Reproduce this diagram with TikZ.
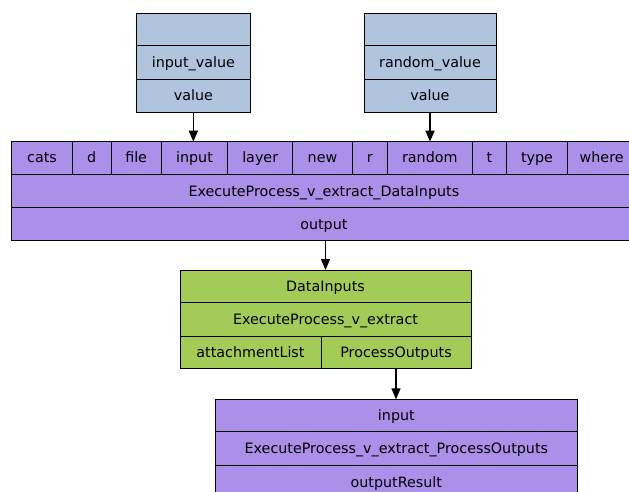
\documentclass[tikz,border=0pt]{standalone}
\usepackage{fontspec}
\setmainfont{DejaVu Sans}
\usetikzlibrary{arrows.meta}
\definecolor{typeblue}{HTML}{B0C4DE}
\definecolor{procpurple}{HTML}{AB90EA}
\definecolor{datagreen}{HTML}{A2CB57}
\tikzset{
  cell/.style={draw=black, line width=1pt, inner sep=0pt, outer sep=0pt,
    font=\fontsize{14.3}{16}\selectfont, text=black,
    text height=12pt, text depth=2pt},
  link/.style={draw=black, line width=1.2pt, -{Triangle[length=11pt,width=9pt]}},
}
% \cellat{name}{x1}{y1}{x2}{y2}{fill}{text}: one table cell between two corners
\newcommand\cellat[7]{%
  \node[cell, fill=#6, minimum width={(#4-#2)*1pt}, minimum height={(#5-#3)*1pt}]
    (#1) at ({(#2+#4)/2},{(#3+#5)/2}) {#7};}
\begin{document}
\begin{tikzpicture}[x=1pt, y=-1pt]
\useasboundingbox (0,0) rectangle (629,492);
\clip (0,0) rectangle (629,492);

% input_value record
\cellat{ivhead}{136.7}{13.3}{250}{46}{typeblue}{}
\cellat{ivname}{136.7}{46}{250}{79.3}{typeblue}{input\_value}
\cellat{ivval}{136.7}{79.3}{250}{112.3}{typeblue}{value}

% random_value record
\cellat{rvhead}{364}{13.3}{496}{46}{typeblue}{}
\cellat{rvname}{364}{46}{496}{79.3}{typeblue}{random\_value}
\cellat{rvval}{364}{79.3}{496}{112.3}{typeblue}{value}

% ExecuteProcess_v_extract_DataInputs record
\cellat{pcats}{11.7}{141.7}{72.3}{174.3}{procpurple}{cats}
\cellat{pd}{72.3}{141.7}{111}{174.3}{procpurple}{d}
\cellat{pfile}{111}{141.7}{161.3}{174.3}{procpurple}{file}
\cellat{pinput}{161.3}{141.7}{227.7}{174.3}{procpurple}{input}
\cellat{player}{227.7}{141.7}{292.7}{174.3}{procpurple}{layer}
\cellat{pnew}{292.7}{141.7}{352.3}{174.3}{procpurple}{new}
\cellat{pr}{352.3}{141.7}{387.3}{174.3}{procpurple}{r}
\cellat{prandom}{387.3}{141.7}{472.3}{174.3}{procpurple}{random}
\cellat{pt}{472.3}{141.7}{506.7}{174.3}{procpurple}{t}
\cellat{ptype}{506.7}{141.7}{567.3}{174.3}{procpurple}{type}
\cellat{pwhere}{567.3}{141.7}{636}{174.3}{procpurple}{where}
\cellat{pname}{11.7}{174.3}{636}{207.7}{procpurple}{ExecuteProcess\_v\_extract\_DataInputs}
\cellat{pout}{11.7}{207.7}{636}{240.7}{procpurple}{output}

% DataInputs record
\cellat{dhead}{180}{270}{471}{302.7}{datagreen}{DataInputs}
\cellat{dname}{180}{302.7}{471}{336.7}{datagreen}{ExecuteProcess\_v\_extract}
\cellat{dattach}{180}{336.7}{321}{368.3}{datagreen}{attachmentList}
\cellat{dpo}{321}{336.7}{471}{368.3}{datagreen}{ProcessOutputs}

% ExecuteProcess_v_extract_ProcessOutputs record
\cellat{oinput}{215}{399.3}{577.7}{431.7}{procpurple}{input}
\cellat{oname}{215}{431.7}{577.7}{465.7}{procpurple}{ExecuteProcess\_v\_extract\_ProcessOutputs}
\cellat{ores}{215}{465.7}{577.7}{499}{procpurple}{outputResult}

% connectors
\draw[link] (ivval.south) -- (ivval.south |- pinput.north);
\draw[link] (rvval.south) -- (rvval.south |- prandom.north);
\draw[link] (dhead.north |- pout.south) -- (dhead.north);
\draw[link] (dpo.south) -- (dpo.south |- oinput.north);
\end{tikzpicture}
\end{document}
